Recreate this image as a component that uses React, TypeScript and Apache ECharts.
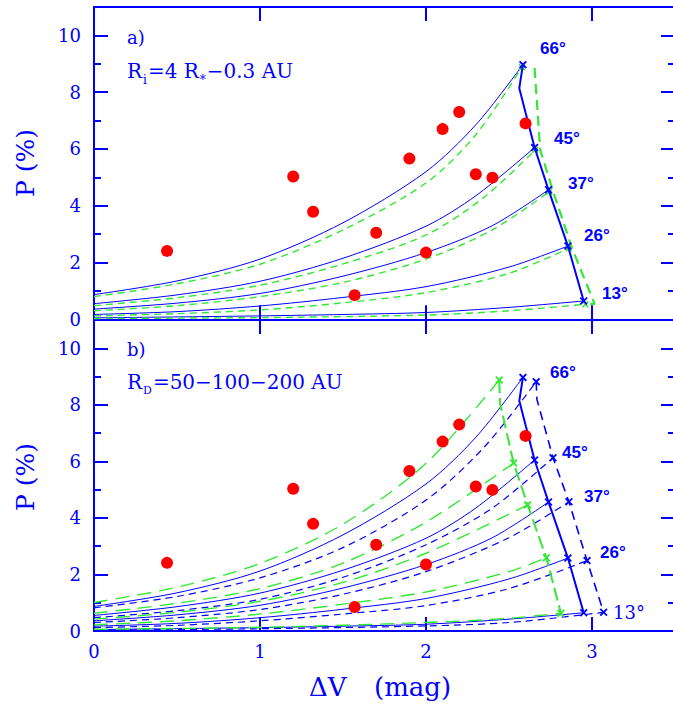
import React, { useEffect, useRef } from 'react';
import * as echarts from 'echarts';

// ---- observed points (ΔV, P) ----
const obsDV = [0.44, 1.2, 1.32, 1.7, 1.57, 1.9, 2.0, 2.1, 2.2, 2.3, 2.4, 2.6];
const obsP = [2.41, 5.03, 3.79, 3.05, 0.85, 5.66, 2.35, 6.7, 7.3, 5.11, 4.99, 6.9];

// ---- axis ticks ----
const xTicks = [0, 1, 2, 3];
const yMajor = [0, 2, 4, 6, 8, 10];
const yMinor = [1, 3, 5, 7, 9];

// ---- model curves, blue solid (both panels) ----
const blue66 = [[0, 0.87], [0.5, 1.35], [1, 2.12], [1.5, 3.4], [2, 5.2], [2.3, 6.85], [2.584, 8.97]];
const blue45 = [[0, 0.55], [0.5, 0.86], [1, 1.34], [1.5, 2.15], [2, 3.28], [2.3, 4.35], [2.654, 6.05]];
const blue37 = [[0, 0.36], [0.5, 0.57], [1, 0.91], [1.5, 1.52], [2, 2.35], [2.4, 3.3], [2.738, 4.56]];
const blue26 = [[0, 0.17], [0.5, 0.27], [1, 0.47], [1.5, 0.77], [2, 1.15], [2.5, 1.84], [2.855, 2.58]];
const blue13 = [[0, 0.05], [1, 0.12], [1.5, 0.17], [2, 0.24], [2.5, 0.42], [2.95, 0.645]];
const blueEdge = [[2.584, 8.97], [2.562, 8.14], [2.654, 6.05], [2.738, 4.56], [2.855, 2.58], [2.95, 0.645]];

// ---- panel a, green dashed ----
const green66a = [[0, 0.8], [0.5, 1.25], [1, 1.94], [1.5, 3.15], [2, 4.8], [2.3, 6.5], [2.578, 8.88]];
const green45a = [[0, 0.48], [0.5, 0.76], [1, 1.2], [1.5, 1.95], [2, 2.97], [2.35, 4.3], [2.658, 5.97]];
const green37a = [[0, 0.3], [0.5, 0.48], [1, 0.8], [1.5, 1.3], [2, 2.12], [2.4, 3.15], [2.743, 4.5]];
const green26a = [[0, 0.12], [0.5, 0.2], [1, 0.33], [1.5, 0.58], [2, 0.94], [2.5, 1.62], [2.86, 2.5]];
const green13a = [[0, 0.03], [1, 0.06], [2, 0.15], [2.5, 0.3], [2.96, 0.53]];
const greenEdgeA = [[2.654, 8.85], [2.688, 5.97], [2.769, 4.44], [2.88, 2.5], [3.016, 0.54], [2.96, 0.54]];

// ---- panel b, blue dashed ----
const blueDash66 = [[0, 0.82], [0.5, 1.22], [1, 1.88], [1.5, 2.95], [2, 4.63], [2.35, 6.5], [2.664, 8.82]];
const blueDash45 = [[0, 0.47], [0.5, 0.72], [1, 1.12], [1.5, 1.9], [2, 3.05], [2.4, 4.35], [2.765, 6.13]];
const blueDash37 = [[0, 0.3], [0.5, 0.47], [1, 0.76], [1.5, 1.3], [2, 2.1], [2.5, 3.3], [2.861, 4.57]];
const blueDash26 = [[0, 0.12], [0.5, 0.2], [1, 0.36], [1.5, 0.6], [2, 0.9], [2.5, 1.5], [2.97, 2.49]];
const blueDash13 = [[0, 0.03], [1, 0.08], [2, 0.18], [2.5, 0.3], [3.07, 0.66]];
const blueDashEdge = [[2.664, 8.82], [2.668, 8.2], [2.765, 6.13], [2.861, 4.57], [2.97, 2.49], [3.07, 0.66]];

// ---- panel b, green long dashed ----
const green66b = [[0, 1.01], [0.5, 1.55], [1, 2.39], [1.5, 3.78], [2, 5.93], [2.441, 8.88]];
const green45b = [[0, 0.63], [0.5, 0.98], [1, 1.5], [1.5, 2.4], [2, 3.85], [2.528, 5.94]];
const green37b = [[0, 0.42], [0.5, 0.66], [1, 1.05], [1.5, 1.72], [2, 2.75], [2.612, 4.46]];
const green26b = [[0, 0.22], [0.5, 0.36], [1, 0.6], [1.5, 0.95], [2, 1.38], [2.5, 2.1], [2.725, 2.59]];
const green13b = [[0, 0.06], [1, 0.13], [2, 0.3], [2.5, 0.45], [2.813, 0.63]];
const greenEdgeB = [[2.441, 8.88], [2.446, 8.05], [2.528, 5.94], [2.612, 4.46], [2.725, 2.59], [2.813, 0.63]];

const angleLabels = ['66°', '45°', '37°', '26°', '13°'];

const BLUE = '#0000ff';
const GREEN = '#33e833';
const RED = '#ff0000';
const SERIF = '"DejaVu Serif", serif';
const XMARK = 'path://M0,1.6L1.6,0L5,3.4L8.4,0L10,1.6L6.6,5L10,8.4L8.4,10L5,6.6L1.6,10L0,8.4L3.4,5Z';

export default function App() {
  const ref = useRef<HTMLDivElement>(null);
  useEffect(() => {
    if (!ref.current) return;
    const chart = echarts.init(ref.current, undefined, { renderer: 'svg' });

    const grids = [
      { left: 94, top: 7, width: 581, height: 312.3, outerBoundsMode: 'none', containLabel: false },
      { left: 94, top: 320, width: 581, height: 311, outerBoundsMode: 'none', containLabel: false },
    ];

    const xAxes: any[] = [];
    const yAxes: any[] = [];
    [0, 1].forEach((g) => {
      ['bottom', 'top'].forEach((pos) => {
        xAxes.push({
          type: 'value', gridIndex: g, position: pos, min: 0, max: 3.5,
          axisLine: { show: true, onZero: false, lineStyle: { color: BLUE, width: 2 } },
          axisTick: { show: true, inside: true, length: 14, customValues: xTicks, lineStyle: { color: BLUE, width: 2 } },
          axisLabel: {
            show: g === 1 && pos === 'bottom', color: BLUE, fontFamily: SERIF, fontSize: 18, margin: 11,
            customValues: xTicks,
          },
          splitLine: { show: false },
        });
      });
      ['left', 'right'].forEach((pos) => {
        [yMajor, yMinor].forEach((vals, k) => {
          yAxes.push({
            type: 'value', gridIndex: g, position: pos, min: 0, max: 11,
            axisLine: { show: k === 0 && pos === 'left', onZero: false, lineStyle: { color: BLUE, width: 2 } },
            axisTick: { show: true, inside: true, length: k === 0 ? 14 : 7, customValues: vals, lineStyle: { color: BLUE, width: 2 } },
            axisLabel: {
              show: k === 0 && pos === 'left', color: BLUE, fontFamily: SERIF, fontSize: 18, margin: 13,
              customValues: vals,
            },
            splitLine: { show: false },
          });
        });
      });
    });

    const curve = (data: number[][], panel: number, color: string, width: number, type: any, mark: number) => ({
      type: 'line', xAxisIndex: panel * 2, yAxisIndex: panel * 4, smooth: 0.3, showAllSymbol: true,
      symbol: XMARK, symbolSize: mark, silent: true,
      lineStyle: { color, width, type },
      itemStyle: { color },
      data: data.map((p, i) => (mark > 0 && i === data.length - 1 ? { value: p } : { value: p, symbol: 'none' })),
      z: 3,
    });
    const edge = (data: number[][], panel: number, color: string, width: number, type: any, mark: number, skip: number[]) => ({
      type: 'line', xAxisIndex: panel * 2, yAxisIndex: panel * 4, smooth: false, showAllSymbol: true,
      symbol: XMARK, symbolSize: mark, silent: true,
      lineStyle: { color, width, type },
      itemStyle: { color },
      data: data.map((p, i) => (skip.includes(i) ? { value: p, symbol: 'none' } : { value: p })),
      z: 4,
    });

    const series: any[] = [];
    const blues = [blue66, blue45, blue37, blue26, blue13];
    [0, 1].forEach((panel) => {
      blues.forEach((d) => series.push(curve(d, panel, BLUE, 1, 'solid', 0)));
      series.push(edge(blueEdge, panel, BLUE, 2, 'solid', 8, [1]));
    });
    [green66a, green45a, green37a, green26a, green13a].forEach((d) =>
      series.push(curve(d, 0, GREEN, 1.4, [7, 5], 7)));
    series.push(edge(greenEdgeA, 0, GREEN, 2.2, [10, 6], 0, [0, 1, 2, 3, 4, 5]));

    [blueDash66, blueDash45, blueDash37, blueDash26, blueDash13].forEach((d) =>
      series.push(curve(d, 1, BLUE, 1.2, [7, 5], 0)));
    series.push(edge(blueDashEdge, 1, BLUE, 1.6, [9, 6], 8, [1]));
    [green66b, green45b, green37b, green26b, green13b].forEach((d) =>
      series.push(curve(d, 1, GREEN, 1.4, [14, 8], 0)));
    series.push(edge(greenEdgeB, 1, GREEN, 2, [13, 5], 8, [1]));

    const obs = obsDV.map((x, i) => [x, obsP[i]]);
    [0, 1].forEach((panel) => {
      series.push({
        type: 'scatter', xAxisIndex: panel * 2, yAxisIndex: panel * 4, symbol: 'circle', symbolSize: 12,
        itemStyle: { color: RED, opacity: 1 }, data: obs, z: 10, silent: true,
      });
    });

    const txt = (text: string, x: number, y: number, opts: any = {}) => ({
      type: 'text', x, y, z: 20, silent: true,
      style: {
        text, fill: BLUE, font: `18px ${SERIF}`, textAlign: 'left', textVerticalAlign: 'middle', ...opts,
      },
    });
    const bold = '"Liberation Sans", Arial, sans-serif';
    const angPosA = [[540, 48], [554, 138], [568, 183], [584, 235], [602, 293]];
    const angPosB = [[550, 372], [562, 452], [584, 496], [600, 552], [613, 612]];

    const graphic: any[] = [
      txt('a)', 127, 37),
      txt('b)', 127, 349),
      {
        type: 'text', x: 127, y: 61, z: 20, silent: true,
        style: {
          text: '{n|R}{s|i}{n|=4 R}{s|*}{n|−0.3 AU}', fill: BLUE, textAlign: 'left', textVerticalAlign: 'top',
          rich: {
            n: { fontFamily: SERIF, fontSize: 20, lineHeight: 21, verticalAlign: 'top', fill: BLUE },
            s: { fontFamily: SERIF, fontSize: 12, lineHeight: 12, padding: [13, 1, 0, 1], verticalAlign: 'top', fill: BLUE },
          },
        },
      },
      {
        type: 'text', x: 127, y: 372, z: 20, silent: true,
        style: {
          text: '{n|R}{s|D}{n|=50−100−200 AU}', fill: BLUE, textAlign: 'left', textVerticalAlign: 'top',
          rich: {
            n: { fontFamily: SERIF, fontSize: 20, lineHeight: 21, verticalAlign: 'top', fill: BLUE },
            s: { fontFamily: SERIF, fontSize: 11, lineHeight: 12, padding: [13, 1, 0, 1], verticalAlign: 'top', fill: BLUE },
          },
        },
      },
      {
        type: 'text', x: 25, y: 163, rotation: Math.PI / 2, z: 20, silent: true,
        style: { text: 'P (%)', fill: BLUE, font: `25px ${SERIF}`, textAlign: 'center', textVerticalAlign: 'middle' },
      },
      {
        type: 'text', x: 25, y: 477, rotation: Math.PI / 2, z: 20, silent: true,
        style: { text: 'P (%)', fill: BLUE, font: `25px ${SERIF}`, textAlign: 'center', textVerticalAlign: 'middle' },
      },
      txt('ΔV', 309, 687, { font: `26px ${SERIF}` }),
      txt('(mag)', 374, 687, { font: `26px ${SERIF}` }),
    ];
    angleLabels.forEach((t, i) => {
      graphic.push(txt(t, angPosA[i][0], angPosA[i][1], { font: `bold 17px ${bold}` }));
      graphic.push(txt(t, angPosB[i][0], angPosB[i][1],
        i === 4 ? { font: `18px ${SERIF}` } : { font: `bold 17px ${bold}` }));
    });

    chart.setOption({
      animation: false,
      backgroundColor: '#ffffff',
      grid: grids,
      xAxis: xAxes,
      yAxis: yAxes,
      series,
      graphic,
    });
    return () => chart.dispose();
  }, []);
  return <div ref={ref} style={{ position: 'fixed', left: 0, top: 0, width: 673, height: 706 }} />;
}
